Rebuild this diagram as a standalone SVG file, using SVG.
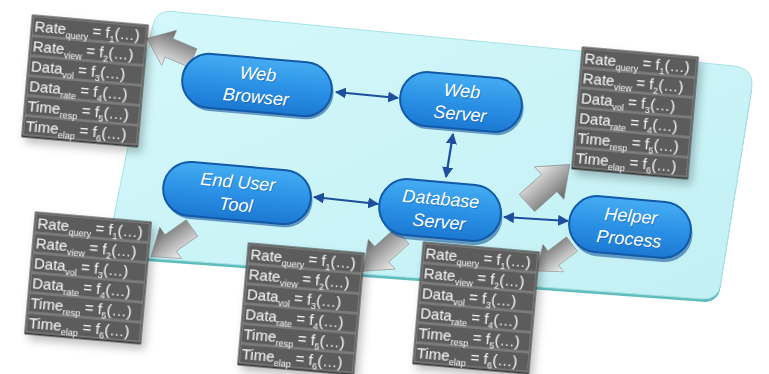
<svg xmlns="http://www.w3.org/2000/svg" width="769" height="374" viewBox="0 0 769 374">
<defs>
  <linearGradient id="platGrad" x1="0" y1="0" x2="1" y2="1">
    <stop offset="0" stop-color="#d4f8fb"/>
    <stop offset="1" stop-color="#c2f0f4"/>
  </linearGradient>
  <linearGradient id="nodeGrad" x1="0" y1="0" x2="0" y2="1">
    <stop offset="0" stop-color="#45acf2"/>
    <stop offset="0.5" stop-color="#2b92e6"/>
    <stop offset="1" stop-color="#1c78d2"/>
  </linearGradient>
  <linearGradient id="arrowGrad" x1="0" y1="0" x2="0" y2="1">
    <stop offset="0" stop-color="#f2f2f2"/>
    <stop offset="0.45" stop-color="#b4b4b4"/>
    <stop offset="1" stop-color="#666666"/>
  </linearGradient>
  <filter id="shadow" x="-20%" y="-20%" width="150%" height="150%">
    <feDropShadow dx="4" dy="5" stdDeviation="4" flood-color="#000" flood-opacity="0.25"/>
  </filter>
  <marker id="ah" viewBox="0 0 10 10" refX="9" refY="5" markerWidth="5" markerHeight="5" orient="auto-start-reverse" markerUnits="strokeWidth">
    <path d="M0,0 L10,5 L0,10 z" fill="#1d4f9c"/>
  </marker>
  <polygon id="blockArrow" points="0,-10 26,-10 26,-19 50,0 26,19 26,10 0,10"/>
</defs>
<style>
  .tb-panel { fill:#3e3e3e; stroke:#2c2c2c; stroke-width:1; }
  .tb-row { fill:#5b5b5b; stroke:#939393; stroke-width:1; }
  .tb-text { font-family:"Liberation Sans", Arial, sans-serif; font-size:15px; fill:#f2f2f2; }
  .sub { font-size:9px; }
  .node-shape { fill:url(#nodeGrad); stroke:#1259a8; stroke-width:2; }
  .node-rim { fill:#0d4f96; opacity:0.55; }
  .node-text { font-family:"Liberation Sans", Arial, sans-serif; font-style:italic; font-size:18px; fill:#ffffff; text-anchor:middle; }
  .node-text-sh { font-family:"Liberation Sans", Arial, sans-serif; font-style:italic; font-size:18px; fill:#0b4a8a; text-anchor:middle; opacity:0.35; }
  .conn { stroke:#1d4f9c; stroke-width:2.2; fill:none; marker-start:url(#ah); marker-end:url(#ah); }
  .garrow { fill:url(#arrowGrad); stroke:#8a8a8a; stroke-width:0.6; }
</style>

<rect width="769" height="374" fill="#ffffff"/>

<!-- platform -->
<g id="platform">
  <path d="M171.9,14.5 L733.1,68.9 Q755,71 751.5,92.7 L720.5,287.2 Q718,303 702,301.8 L122,259.2 Q106,258 109.2,242.3 L152.8,28.7 Q156,13 171.9,14.5 Z" fill="#5fbdbd"/>
  <path d="M171.9,11.5 L733.1,65.9 Q755,68 751.5,89.7 L720.5,284.2 Q718,300 702,298.8 L122,256.2 Q106,255 109.2,239.3 L152.8,25.7 Q156,10 171.9,11.5 Z" fill="url(#platGrad)" stroke="#a6e2e6" stroke-width="1"/>
</g>

<!-- gray block arrows -->
<g id="flow-arrows">
  <use href="#blockArrow" class="garrow" transform="translate(193,58) rotate(203)"/>
  <use href="#blockArrow" class="garrow" transform="translate(527,203) rotate(-42) scale(1.15)"/>
  <use href="#blockArrow" class="garrow" transform="translate(192,228) rotate(145)"/>
  <use href="#blockArrow" class="garrow" transform="translate(402,236) rotate(138) scale(1.05)"/>
  <use href="#blockArrow" class="garrow" transform="translate(572,244) rotate(143) scale(0.9)"/>
</g>

<!-- connectors -->
<g id="connectors">
  <line class="conn" x1="336" y1="92" x2="398" y2="98"/>
  <line class="conn" x1="453" y1="134" x2="446" y2="177"/>
  <line class="conn" x1="314" y1="197" x2="378" y2="204"/>
  <line class="conn" x1="504" y1="217" x2="568" y2="221"/>
</g>

<!-- nodes -->
<g id="node-web-browser" transform="translate(257,85) rotate(5)">
  <rect class="node-rim" x="-73" y="-24" width="150" height="54" rx="27"/>
  <rect class="node-shape" x="-75" y="-27" width="150" height="54" rx="27"/>
  <text class="node-text-sh" x="1" y="-4">Web</text>
  <text class="node-text-sh" x="1" y="19">Browser</text>
  <text class="node-text" y="-5">Web</text>
  <text class="node-text" y="18">Browser</text>
</g>
<g id="node-web-server" transform="translate(461,102) rotate(5)">
  <rect class="node-rim" x="-59" y="-24" width="122" height="54" rx="27"/>
  <rect class="node-shape" x="-61" y="-27" width="122" height="54" rx="27"/>
  <text class="node-text-sh" x="1" y="-4">Web</text>
  <text class="node-text-sh" x="1" y="19">Server</text>
  <text class="node-text" y="-5">Web</text>
  <text class="node-text" y="18">Server</text>
</g>
<g id="node-end-user-tool" transform="translate(237,193) rotate(5)">
  <rect class="node-rim" x="-72" y="-24" width="148" height="54" rx="27"/>
  <rect class="node-shape" x="-74" y="-27" width="148" height="54" rx="27"/>
  <text class="node-text-sh" x="1" y="-4">End User</text>
  <text class="node-text-sh" x="1" y="19">Tool</text>
  <text class="node-text" y="-5">End User</text>
  <text class="node-text" y="18">Tool</text>
</g>
<g id="node-database-server" transform="translate(440,210) rotate(5)">
  <rect class="node-rim" x="-59" y="-24" width="122" height="56" rx="28"/>
  <rect class="node-shape" x="-61" y="-28" width="122" height="56" rx="28"/>
  <text class="node-text-sh" x="1" y="-4">Database</text>
  <text class="node-text-sh" x="1" y="19">Server</text>
  <text class="node-text" y="-5">Database</text>
  <text class="node-text" y="18">Server</text>
</g>
<g id="node-helper-process" transform="translate(630,227) rotate(5)">
  <rect class="node-rim" x="-59" y="-24" width="122" height="56" rx="28"/>
  <rect class="node-shape" x="-61" y="-28" width="122" height="56" rx="28"/>
  <text class="node-text-sh" x="1" y="-4">Helper</text>
  <text class="node-text-sh" x="1" y="19">Process</text>
  <text class="node-text" y="-5">Helper</text>
  <text class="node-text" y="18">Process</text>
</g>

<!-- metric tables -->
<g id="table-web-browser" transform="translate(85,81) rotate(5)" filter="url(#shadow)">
  <rect class="tb-panel" x="-58" y="-61" width="116" height="122"/>
  <rect class="tb-row" x="-57" y="-60" width="114" height="19"/>
  <rect class="tb-row" x="-57" y="-40" width="114" height="19"/>
  <rect class="tb-row" x="-57" y="-20" width="114" height="19"/>
  <rect class="tb-row" x="-57" y="0" width="114" height="19"/>
  <rect class="tb-row" x="-57" y="20" width="114" height="19"/>
  <rect class="tb-row" x="-57" y="40" width="114" height="19"/>
  <text class="tb-text" x="-55" y="-45">Rate<tspan class="sub" dy="4">query</tspan><tspan dy="-4"> = f</tspan><tspan class="sub" dy="4">1</tspan><tspan dy="-4">(…)</tspan></text>
  <text class="tb-text" x="-55" y="-25">Rate<tspan class="sub" dy="4">view</tspan><tspan dy="-4"> = f</tspan><tspan class="sub" dy="4">2</tspan><tspan dy="-4">(…)</tspan></text>
  <text class="tb-text" x="-55" y="-5">Data<tspan class="sub" dy="4">vol</tspan><tspan dy="-4"> = f</tspan><tspan class="sub" dy="4">3</tspan><tspan dy="-4">(…)</tspan></text>
  <text class="tb-text" x="-55" y="15">Data<tspan class="sub" dy="4">rate</tspan><tspan dy="-4"> = f</tspan><tspan class="sub" dy="4">4</tspan><tspan dy="-4">(…)</tspan></text>
  <text class="tb-text" x="-55" y="35">Time<tspan class="sub" dy="4">resp</tspan><tspan dy="-4"> = f</tspan><tspan class="sub" dy="4">5</tspan><tspan dy="-4">(…)</tspan></text>
  <text class="tb-text" x="-55" y="55">Time<tspan class="sub" dy="4">elap</tspan><tspan dy="-4"> = f</tspan><tspan class="sub" dy="4">6</tspan><tspan dy="-4">(…)</tspan></text>
</g>
<g id="table-database-server-top" transform="translate(635,113) rotate(5)" filter="url(#shadow)">
  <rect class="tb-panel" x="-58" y="-61" width="116" height="122"/>
  <rect class="tb-row" x="-57" y="-60" width="114" height="19"/>
  <rect class="tb-row" x="-57" y="-40" width="114" height="19"/>
  <rect class="tb-row" x="-57" y="-20" width="114" height="19"/>
  <rect class="tb-row" x="-57" y="0" width="114" height="19"/>
  <rect class="tb-row" x="-57" y="20" width="114" height="19"/>
  <rect class="tb-row" x="-57" y="40" width="114" height="19"/>
  <text class="tb-text" x="-55" y="-45">Rate<tspan class="sub" dy="4">query</tspan><tspan dy="-4"> = f</tspan><tspan class="sub" dy="4">1</tspan><tspan dy="-4">(…)</tspan></text>
  <text class="tb-text" x="-55" y="-25">Rate<tspan class="sub" dy="4">view</tspan><tspan dy="-4"> = f</tspan><tspan class="sub" dy="4">2</tspan><tspan dy="-4">(…)</tspan></text>
  <text class="tb-text" x="-55" y="-5">Data<tspan class="sub" dy="4">vol</tspan><tspan dy="-4"> = f</tspan><tspan class="sub" dy="4">3</tspan><tspan dy="-4">(…)</tspan></text>
  <text class="tb-text" x="-55" y="15">Data<tspan class="sub" dy="4">rate</tspan><tspan dy="-4"> = f</tspan><tspan class="sub" dy="4">4</tspan><tspan dy="-4">(…)</tspan></text>
  <text class="tb-text" x="-55" y="35">Time<tspan class="sub" dy="4">resp</tspan><tspan dy="-4"> = f</tspan><tspan class="sub" dy="4">5</tspan><tspan dy="-4">(…)</tspan></text>
  <text class="tb-text" x="-55" y="55">Time<tspan class="sub" dy="4">elap</tspan><tspan dy="-4"> = f</tspan><tspan class="sub" dy="4">6</tspan><tspan dy="-4">(…)</tspan></text>
</g>
<g id="table-end-user-tool" transform="translate(88,278) rotate(5)" filter="url(#shadow)">
  <rect class="tb-panel" x="-58" y="-61" width="116" height="122"/>
  <rect class="tb-row" x="-57" y="-60" width="114" height="19"/>
  <rect class="tb-row" x="-57" y="-40" width="114" height="19"/>
  <rect class="tb-row" x="-57" y="-20" width="114" height="19"/>
  <rect class="tb-row" x="-57" y="0" width="114" height="19"/>
  <rect class="tb-row" x="-57" y="20" width="114" height="19"/>
  <rect class="tb-row" x="-57" y="40" width="114" height="19"/>
  <text class="tb-text" x="-55" y="-45">Rate<tspan class="sub" dy="4">query</tspan><tspan dy="-4"> = f</tspan><tspan class="sub" dy="4">1</tspan><tspan dy="-4">(…)</tspan></text>
  <text class="tb-text" x="-55" y="-25">Rate<tspan class="sub" dy="4">view</tspan><tspan dy="-4"> = f</tspan><tspan class="sub" dy="4">2</tspan><tspan dy="-4">(…)</tspan></text>
  <text class="tb-text" x="-55" y="-5">Data<tspan class="sub" dy="4">vol</tspan><tspan dy="-4"> = f</tspan><tspan class="sub" dy="4">3</tspan><tspan dy="-4">(…)</tspan></text>
  <text class="tb-text" x="-55" y="15">Data<tspan class="sub" dy="4">rate</tspan><tspan dy="-4"> = f</tspan><tspan class="sub" dy="4">4</tspan><tspan dy="-4">(…)</tspan></text>
  <text class="tb-text" x="-55" y="35">Time<tspan class="sub" dy="4">resp</tspan><tspan dy="-4"> = f</tspan><tspan class="sub" dy="4">5</tspan><tspan dy="-4">(…)</tspan></text>
  <text class="tb-text" x="-55" y="55">Time<tspan class="sub" dy="4">elap</tspan><tspan dy="-4"> = f</tspan><tspan class="sub" dy="4">6</tspan><tspan dy="-4">(…)</tspan></text>
</g>
<g id="table-database-server-bottom" transform="translate(301,309) rotate(5)" filter="url(#shadow)">
  <rect class="tb-panel" x="-58" y="-61" width="116" height="122"/>
  <rect class="tb-row" x="-57" y="-60" width="114" height="19"/>
  <rect class="tb-row" x="-57" y="-40" width="114" height="19"/>
  <rect class="tb-row" x="-57" y="-20" width="114" height="19"/>
  <rect class="tb-row" x="-57" y="0" width="114" height="19"/>
  <rect class="tb-row" x="-57" y="20" width="114" height="19"/>
  <rect class="tb-row" x="-57" y="40" width="114" height="19"/>
  <text class="tb-text" x="-55" y="-45">Rate<tspan class="sub" dy="4">query</tspan><tspan dy="-4"> = f</tspan><tspan class="sub" dy="4">1</tspan><tspan dy="-4">(…)</tspan></text>
  <text class="tb-text" x="-55" y="-25">Rate<tspan class="sub" dy="4">view</tspan><tspan dy="-4"> = f</tspan><tspan class="sub" dy="4">2</tspan><tspan dy="-4">(…)</tspan></text>
  <text class="tb-text" x="-55" y="-5">Data<tspan class="sub" dy="4">vol</tspan><tspan dy="-4"> = f</tspan><tspan class="sub" dy="4">3</tspan><tspan dy="-4">(…)</tspan></text>
  <text class="tb-text" x="-55" y="15">Data<tspan class="sub" dy="4">rate</tspan><tspan dy="-4"> = f</tspan><tspan class="sub" dy="4">4</tspan><tspan dy="-4">(…)</tspan></text>
  <text class="tb-text" x="-55" y="35">Time<tspan class="sub" dy="4">resp</tspan><tspan dy="-4"> = f</tspan><tspan class="sub" dy="4">5</tspan><tspan dy="-4">(…)</tspan></text>
  <text class="tb-text" x="-55" y="55">Time<tspan class="sub" dy="4">elap</tspan><tspan dy="-4"> = f</tspan><tspan class="sub" dy="4">6</tspan><tspan dy="-4">(…)</tspan></text>
</g>
<g id="table-helper-process" transform="translate(476,308) rotate(5)" filter="url(#shadow)">
  <rect class="tb-panel" x="-58" y="-61" width="116" height="122"/>
  <rect class="tb-row" x="-57" y="-60" width="114" height="19"/>
  <rect class="tb-row" x="-57" y="-40" width="114" height="19"/>
  <rect class="tb-row" x="-57" y="-20" width="114" height="19"/>
  <rect class="tb-row" x="-57" y="0" width="114" height="19"/>
  <rect class="tb-row" x="-57" y="20" width="114" height="19"/>
  <rect class="tb-row" x="-57" y="40" width="114" height="19"/>
  <text class="tb-text" x="-55" y="-45">Rate<tspan class="sub" dy="4">query</tspan><tspan dy="-4"> = f</tspan><tspan class="sub" dy="4">1</tspan><tspan dy="-4">(…)</tspan></text>
  <text class="tb-text" x="-55" y="-25">Rate<tspan class="sub" dy="4">view</tspan><tspan dy="-4"> = f</tspan><tspan class="sub" dy="4">2</tspan><tspan dy="-4">(…)</tspan></text>
  <text class="tb-text" x="-55" y="-5">Data<tspan class="sub" dy="4">vol</tspan><tspan dy="-4"> = f</tspan><tspan class="sub" dy="4">3</tspan><tspan dy="-4">(…)</tspan></text>
  <text class="tb-text" x="-55" y="15">Data<tspan class="sub" dy="4">rate</tspan><tspan dy="-4"> = f</tspan><tspan class="sub" dy="4">4</tspan><tspan dy="-4">(…)</tspan></text>
  <text class="tb-text" x="-55" y="35">Time<tspan class="sub" dy="4">resp</tspan><tspan dy="-4"> = f</tspan><tspan class="sub" dy="4">5</tspan><tspan dy="-4">(…)</tspan></text>
  <text class="tb-text" x="-55" y="55">Time<tspan class="sub" dy="4">elap</tspan><tspan dy="-4"> = f</tspan><tspan class="sub" dy="4">6</tspan><tspan dy="-4">(…)</tspan></text>
</g>
</svg>
